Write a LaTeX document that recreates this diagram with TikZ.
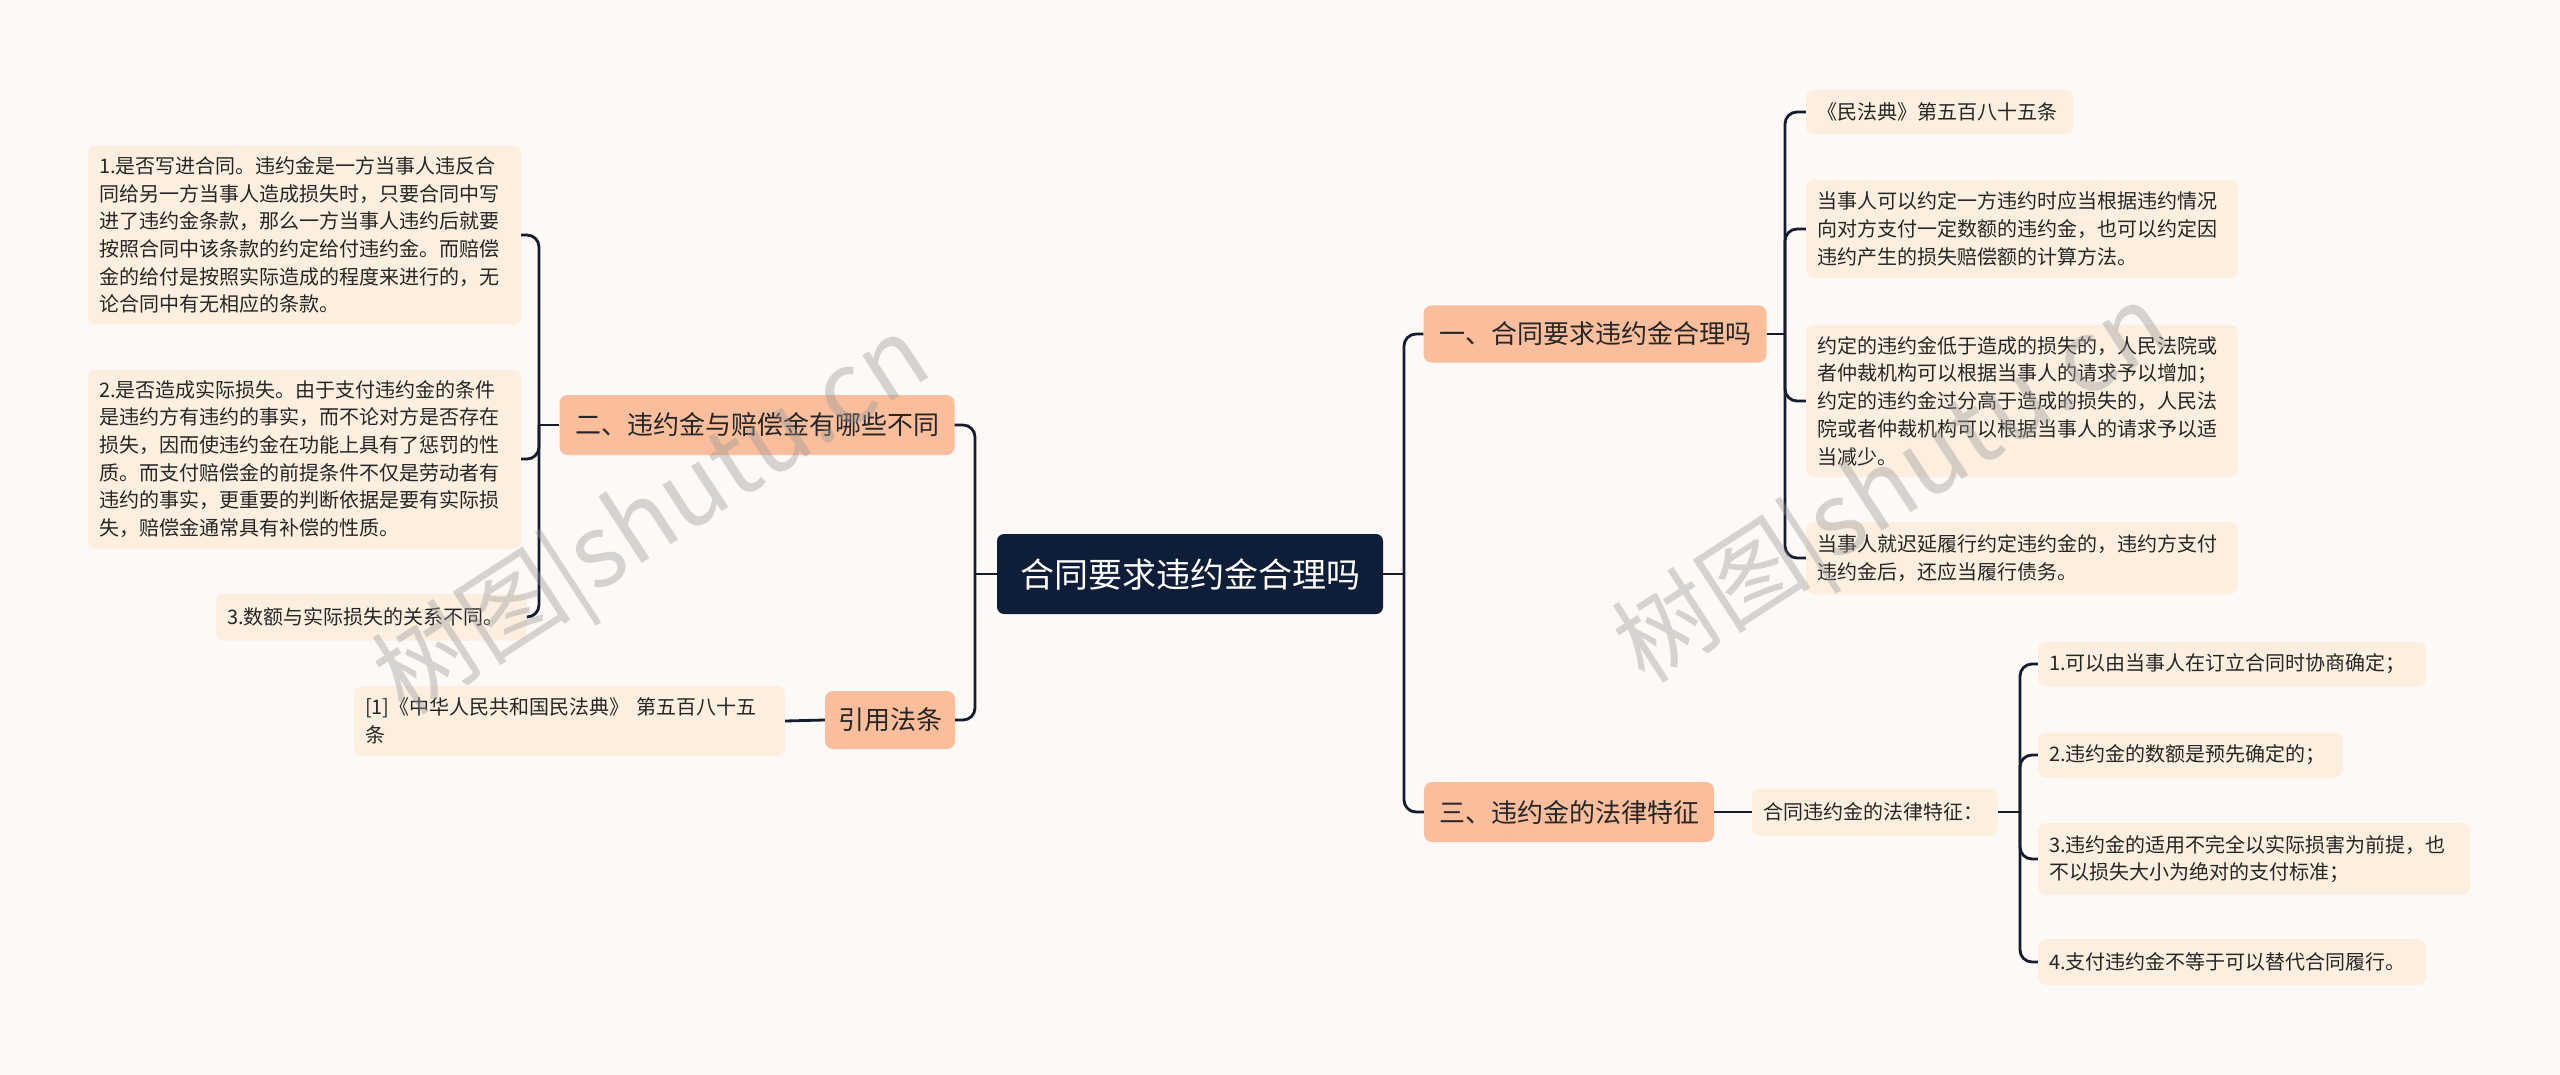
\documentclass[tikz,border=0pt]{standalone}
\usepackage{fontspec}
\setmainfont{Noto Sans CJK SC}
\definecolor{bgc}{HTML}{FDF9F7}
\definecolor{rootc}{HTML}{0F1E38}
\definecolor{branchc}{HTML}{FABE9C}
\definecolor{leafc}{HTML}{FDEFE0}
\definecolor{linec}{HTML}{141C2E}
\definecolor{txtc}{HTML}{262626}
\definecolor{wmc}{HTML}{9A9A9A}
\newcommand{\fs}[2]{\fontsize{#1pt}{#2pt}\selectfont}
\tikzset{
  rootbox/.style={fill=rootc, rounded corners=7pt, text=white, inner sep=0pt, align=center, font=\fs{34}{40}},
  branchbox/.style={fill=branchc, rounded corners=8pt, text=txtc, inner sep=0pt, align=center, font=\fs{26}{32}},
  leafbox/.style={fill=leafc, rounded corners=8pt, text=txtc, inner xsep=11pt, inner ysep=0pt, align=left, font=\fs{20}{27.7}},
  conn/.style={draw=linec, line width=2.8pt, rounded corners=12pt},
  wm/.style={text=wmc, opacity=0.4, font=\fs{100}{110}, rotate=33}
}
\begin{document}
\begin{tikzpicture}[x=1pt,y=-1pt]
\fill[bgc] (0,0) rectangle (2560,1075);
\useasboundingbox (0,0) rectangle (2560,1075);

% nodes
\node[rootbox, minimum width=386pt, minimum height=80pt] (root) at (1190,574) {合同要求违约金合理吗};

\node[branchbox, minimum width=343pt, minimum height=57pt] (b1) at (1595,334) {一、合同要求违约金合理吗};
\node[branchbox, minimum width=395pt, minimum height=60pt] (b2) at (757,425) {二、违约金与赔偿金有哪些不同};
\node[branchbox, minimum width=130pt, minimum height=58pt] (b3) at (890,720) {引用法条};
\node[branchbox, minimum width=290pt, minimum height=60pt] (b4) at (1569,812) {三、违约金的法律特征};

\node[leafbox, text width=411pt, minimum height=179pt] (l1) at (304.5,235) {1.是否写进合同。违约金是一方当事人违反合\\同给另一方当事人造成损失时，只要合同中写\\进了违约金条款，那么一方当事人违约后就要\\按照合同中该条款的约定给付违约金。而赔偿\\金的给付是按照实际造成的程度来进行的，无\\论合同中有无相应的条款。};
\node[leafbox, text width=411pt, minimum height=179pt] (l2) at (304.5,459) {2.是否造成实际损失。由于支付违约金的条件\\是违约方有违约的事实，而不论对方是否存在\\损失，因而使违约金在功能上具有了惩罚的性\\质。而支付赔偿金的前提条件不仅是劳动者有\\违约的事实，更重要的判断依据是要有实际损\\失，赔偿金通常具有补偿的性质。};
\node[leafbox, text width=289pt, minimum height=47pt] (l3) at (371.5,617) {3.数额与实际损失的关系不同。};
\node[leafbox, text width=409pt, minimum height=70pt] (ref) at (569.5,721) {[1]《中华人民共和国民法典》 第五百八十五\\条};

\node[leafbox, text width=245pt, minimum height=45pt] (r1) at (1939.5,112) {《民法典》第五百八十五条};
\node[leafbox, text width=410pt, minimum height=98pt] (r2) at (2022,229) {当事人可以约定一方违约时应当根据违约情况\\向对方支付一定数额的违约金，也可以约定因\\违约产生的损失赔偿额的计算方法。};
\node[leafbox, text width=410pt, minimum height=152pt] (r3) at (2022,401) {约定的违约金低于造成的损失的，人民法院或\\者仲裁机构可以根据当事人的请求予以增加；\\约定的违约金过分高于造成的损失的，人民法\\院或者仲裁机构可以根据当事人的请求予以适\\当减少。};
\node[leafbox, text width=410pt, minimum height=72pt] (r4) at (2022,558) {当事人就迟延履行约定违约金的，违约方支付\\违约金后，还应当履行债务。};

\node[leafbox, text width=224pt, minimum height=47pt] (m) at (1875,812) {合同违约金的法律特征：};
\node[leafbox, text width=366pt, minimum height=45pt] (s1) at (2232,664) {1.可以由当事人在订立合同时协商确定；};
\node[leafbox, text width=283pt, minimum height=45pt] (s2) at (2190.5,755) {2.违约金的数额是预先确定的；};
\node[leafbox, text width=410pt, minimum height=72pt] (s3) at (2254,859) {3.违约金的适用不完全以实际损害为前提，也\\不以损失大小为绝对的支付标准；};
\node[leafbox, text width=366pt, minimum height=46pt] (s4) at (2232,962) {4.支付违约金不等于可以替代合同履行。};

% spine coordinates
\coordinate (jl) at (975,574);
\coordinate (jr) at (1404,574);
\coordinate (j1) at (1785,334);
\coordinate (j2) at (539,425);
\coordinate (j4) at (2020,812);

% connectors
\draw[conn] (root.west) -- (jl);
\draw[conn] (jl) |- (b2.east);
\draw[conn] (jl) |- (b3.east);
\draw[conn] (root.east) -- (jr);
\draw[conn] (jr) |- (b1.west);
\draw[conn] (jr) |- (b4.west);

\draw[conn] (b1.east) -- (j1);
\draw[conn] (j1) |- (r1.west);
\draw[conn] (j1) |- (r2.west);
\draw[conn] (j1) |- (r3.west);
\draw[conn] (j1) |- (r4.west);

\draw[conn] (b2.west) -- (j2);
\draw[conn] (j2) |- (l1.east);
\draw[conn] (j2) |- (l2.east);
\draw[conn] (j2) |- (l3.east);

\draw[conn] (b3.west) -- (ref.east);
\draw[conn] (b4.east) -- (m.west);

\draw[conn] (m.east) -- (j4);
\draw[conn] (j4) |- (s1.west);
\draw[conn] (j4) |- (s2.west);
\draw[conn] (j4) |- (s3.west);
\draw[conn] (j4) |- (s4.west);

% watermarks
\node[wm] (wm1) at (655,522) {树图|shutu.cn};
\node[wm] (wm2) at (1895,490) {树图|shutu.cn};
\end{tikzpicture}
\end{document}
